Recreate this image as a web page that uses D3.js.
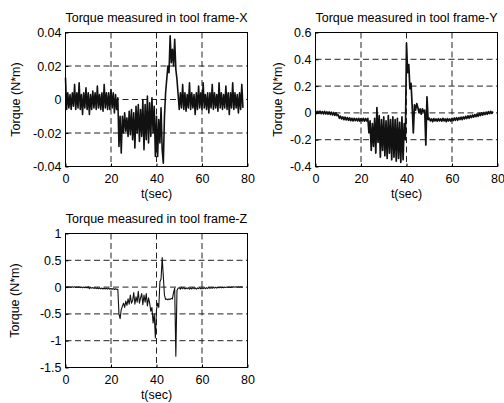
<!DOCTYPE html>
<html>
<head>
<meta charset="utf-8">
<script src="https://cdnjs.cloudflare.com/ajax/libs/d3/7.8.5/d3.min.js"></script>
<style>
    body { margin: 0; background: #fff; }
    svg { display: block; font-family: "Liberation Sans", Arial, Helvetica, sans-serif; }
    text { font-size: 12.5px; fill: #000; }
    .frame { fill: none; stroke: #000; stroke-width: 1; }
    .grid line { stroke: #222; stroke-width: 1; stroke-dasharray: 6, 3.5; }
    .trace { fill: none; stroke: #111; stroke-linejoin: round; }
    .axis path { display: none; }
    .axis line { stroke: #000; }
</style>
</head>
<body>
<div id="chart"></div>
<script>

// sample spacing of the traces (sec)
var timeStep = 0.5;

var timeTicks = [0, 20, 40, 60, 80];
var timeTickLabels = ["0", "20", "40", "60", "80"];

// torque about tool X (N*m), one value every 0.5 s
var torqueX = [
    0.013, -0.006, 0.004, -0.005, 0.003, -0.006, 0.004, -0.004, 0.009, -0.006,
    0.004, -0.005, 0.010, -0.006, 0.003, -0.009, 0.004, -0.005, 0.007, -0.006,
    0.004, -0.009, 0.003, -0.006, 0.005, -0.005, 0.004, -0.006, 0.008, -0.005,
    0.003, -0.006, 0.004, -0.007, 0.009, -0.005, 0.004, -0.006, 0.004, -0.006,
    0.006, -0.005, 0.004, -0.008, 0.003, -0.006, 0.001, -0.028, -0.010, -0.032,
    -0.010, -0.020, -0.008, -0.019, -0.011, -0.022, -0.007, -0.021, -0.006, -0.024,
    -0.008, -0.029, -0.004, -0.020, -0.003, -0.025, -0.006, -0.022, 0.000, -0.030,
    -0.003, -0.024, 0.002, -0.026, -0.002, -0.022, 0.001, -0.020, -0.004, -0.034,
    -0.010, -0.034, -0.012, -0.026, -0.005, -0.030, -0.038, -0.010, 0.004, 0.012,
    0.020, 0.016, 0.038, 0.022, 0.030, 0.020, 0.036, 0.018, 0.012, 0.003,
    -0.006, 0.004, -0.005, 0.009, -0.006, 0.004, -0.007, 0.003, -0.005, 0.010,
    -0.006, 0.004, -0.005, 0.003, -0.009, 0.004, -0.006, 0.008, -0.005, 0.004,
    -0.006, 0.010, -0.005, 0.003, -0.006, 0.004, -0.008, 0.004, -0.005, 0.009,
    -0.006, 0.004, -0.005, 0.003, -0.007, 0.010, -0.005, 0.004, -0.006, 0.003,
    -0.005, 0.008, -0.006, 0.004, -0.009, 0.004, -0.005, 0.010, -0.006, 0.004,
    -0.005, 0.003, -0.008, 0.004, -0.006, 0.009, -0.005
];
var ticksX = [-0.04, -0.02, 0, 0.02, 0.04];
var tickLabelsX = ["-0.04", "-0.02", "0", "0.02", "0.04"];

// torque about tool Y (N*m)
var torqueY = [
    0.015, -0.005, 0.012, -0.004, 0.013, -0.006, 0.010, -0.008, 0.012, -0.008,
    0.008, -0.010, 0.007, -0.012, 0.005, -0.015, 0.003, -0.018, 0.000, -0.020,
    -0.015, -0.040, -0.025, -0.045, -0.030, -0.050, -0.032, -0.052, -0.035, -0.055,
    -0.037, -0.058, -0.040, -0.060, -0.040, -0.058, -0.042, -0.060, -0.040, -0.062,
    -0.042, -0.060, -0.040, -0.062, -0.042, -0.060, -0.040, -0.150, -0.060, -0.280,
    -0.080, -0.250, -0.040, -0.300, 0.040, -0.220, -0.020, -0.330, -0.050, -0.280,
    -0.030, -0.320, -0.060, -0.340, -0.020, -0.300, -0.050, -0.350, -0.030, -0.330,
    -0.050, -0.360, -0.040, -0.340, -0.070, -0.370, -0.030, -0.350, -0.080, -0.200,
    0.520, 0.300, 0.360, 0.180, 0.220, 0.050, -0.150, 0.060, 0.020, 0.070,
    0.040, 0.000, 0.030, -0.010, 0.030, 0.010, 0.020, -0.240, 0.120, -0.050,
    -0.040, -0.060, -0.045, -0.065, -0.042, -0.060, -0.045, -0.062, -0.042, -0.060,
    -0.045, -0.062, -0.040, -0.060, -0.045, -0.065, -0.042, -0.060, -0.045, -0.062,
    -0.040, -0.058, -0.038, -0.055, -0.036, -0.055, -0.035, -0.050, -0.032, -0.050,
    -0.030, -0.045, -0.026, -0.042, -0.022, -0.040, -0.020, -0.035, -0.016, -0.032,
    -0.012, -0.028, -0.008, -0.025, -0.004, -0.020, 0.000, -0.016, 0.003, -0.012,
    0.006, -0.010, 0.010, -0.006, 0.012, -0.004, 0.010
];
var ticksY = [-0.4, -0.2, 0, 0.2, 0.4, 0.6];
var tickLabelsY = ["-0.4", "-0.2", "0", "0.2", "0.4", "0.6"];

// torque about tool Z (N*m)
var torqueZ = [
    0.010, -0.005, 0.008, -0.004, 0.006, -0.006, 0.005, -0.005, 0.006, -0.006,
    0.004, -0.008, 0.005, -0.010, 0.003, -0.012, 0.000, -0.010, -0.002, -0.015,
    0.010, -0.030, -0.005, -0.020, -0.008, -0.025, -0.010, -0.028, -0.012, -0.030,
    -0.015, -0.032, -0.018, -0.035, -0.020, -0.036, -0.022, -0.038, -0.020, -0.040,
    -0.025, -0.040, -0.028, -0.045, -0.030, -0.042, -0.040, -0.500, -0.590, -0.420,
    -0.360, -0.300, -0.380, -0.260, -0.340, -0.220, -0.320, -0.150, -0.300, -0.250,
    -0.100, -0.320, -0.180, -0.280, -0.080, -0.300, -0.200, -0.120, -0.330, -0.150,
    -0.280, -0.120, -0.350, -0.200, -0.300, -0.450, -0.380, -0.670, -0.500, -0.950,
    -0.420, -0.300, -0.380, 0.100, 0.150, 0.550, 0.200, -0.150, -0.230, -0.220,
    -0.240, -0.220, -0.230, -0.210, -0.220, -0.100, -0.020, -1.290, -0.060, -0.020,
    -0.010, -0.040, -0.005, -0.030, -0.010, -0.035, -0.015, -0.030, -0.010, -0.040,
    -0.015, -0.035, -0.010, -0.030, -0.012, -0.040, -0.015, -0.030, -0.010, -0.035,
    -0.012, -0.030, -0.008, -0.028, -0.010, -0.025, -0.006, -0.025, -0.008, -0.022,
    -0.005, -0.020, -0.004, -0.018, -0.002, -0.015, 0.000, -0.014, -0.002, -0.012,
    0.002, -0.010, 0.004, -0.008, 0.003, -0.006, 0.004, -0.005, 0.005, -0.004,
    0.005, -0.003, 0.006, -0.002, 0.005, -0.002, 0.004
];
var ticksZ = [-1.5, -1, -0.5, 0, 0.5, 1];
var tickLabelsZ = ["-1.5", "-1", "-0.5", "0", "0.5", "1"];


/*
 * TorquePlot - one matlab style subplot
 */
TorquePlot = function(_svg, _opts){
    this.svg = _svg;
    this.opts = _opts;
    this.initVis();
}

TorquePlot.prototype.initVis = function(){
    var vis = this;
    var o = vis.opts;

    vis.width = 182;
    vis.height = 134;

    vis.g = vis.svg.append("g")
        .attr("transform", "translate(" + o.left + "," + o.top + ")");

    vis.x = d3.scaleLinear()
        .domain([timeTicks[0], timeTicks[timeTicks.length - 1]])
        .range([0, vis.width]);

    vis.y = d3.scaleLinear()
        .domain([o.ticks[0], o.ticks[o.ticks.length - 1]])
        .range([vis.height, 0]);

    // dashed grid
    var grid = vis.g.append("g").attr("class", "grid");
    grid.selectAll(".gx")
        .data(timeTicks.slice(1, -1))
        .enter().append("line")
        .attr("x1", function(d){ return vis.x(d); })
        .attr("x2", function(d){ return vis.x(d); })
        .attr("y1", 0)
        .attr("y2", vis.height);
    grid.selectAll(".gy")
        .data(o.ticks.slice(1, -1))
        .enter().append("line")
        .attr("x1", 0)
        .attr("x2", vis.width)
        .attr("y1", function(d){ return vis.y(d); })
        .attr("y2", function(d){ return vis.y(d); });

    // trace
    vis.line = d3.line()
        .x(function(d, i){ return vis.x(i * timeStep); })
        .y(function(d){ return vis.y(d); });

    vis.g.append("path")
        .datum(o.values)
        .attr("class", "trace")
        .attr("stroke-width", o.lineWidth)
        .attr("d", vis.line);

    // axes
    vis.xAxis = d3.axisBottom(vis.x)
        .tickValues(timeTicks)
        .tickSize(-3)
        .tickPadding(8)
        .tickFormat(function(d, i){ return timeTickLabels[i]; });

    vis.yAxis = d3.axisLeft(vis.y)
        .tickValues(o.ticks)
        .tickSize(-3)
        .tickPadding(4)
        .tickFormat(function(d, i){ return o.tickLabels[i]; });

    vis.g.append("g")
        .attr("class", "x-axis axis")
        .attr("transform", "translate(0," + vis.height + ")")
        .call(vis.xAxis);

    vis.g.append("g")
        .attr("class", "y-axis axis")
        .call(vis.yAxis);

    vis.g.selectAll(".axis").attr("font-family", null).attr("font-size", null);

    vis.g.append("rect")
        .attr("class", "frame")
        .attr("width", vis.width)
        .attr("height", vis.height);

    // labels
    vis.g.append("text")
        .attr("x", vis.width / 2)
        .attr("y", -11)
        .attr("text-anchor", "middle")
        .text(o.title);

    vis.g.append("text")
        .attr("x", vis.width / 2)
        .attr("y", vis.height + 31)
        .attr("text-anchor", "middle")
        .text("t(sec)");

    vis.g.append("text")
        .attr("transform", "translate(" + (-o.ylabelOffset) + "," + (vis.height / 2) + ") rotate(-90)")
        .attr("dy", "0.35em")
        .attr("text-anchor", "middle")
        .text("Torque (N*m)");
}


var svg = d3.select("#chart").append("svg")
    .attr("width", 504)
    .attr("height", 403);

new TorquePlot(svg, {
    left: 65.5, top: 32.5, values: torqueX, ticks: ticksX, tickLabels: tickLabelsX,
    title: "Torque measured in tool frame-X", ylabelOffset: 49.5, lineWidth: 1.6
});
new TorquePlot(svg, {
    left: 315.5, top: 32.5, values: torqueY, ticks: ticksY, tickLabels: tickLabelsY,
    title: "Torque measured in tool frame-Y", ylabelOffset: 37.5, lineWidth: 1.7
});
new TorquePlot(svg, {
    left: 65.5, top: 233.5, values: torqueZ, ticks: ticksZ, tickLabels: tickLabelsZ,
    title: "Torque measured in tool frame-Z", ylabelOffset: 50.5, lineWidth: 1.1
});

</script>
</body>
</html>
